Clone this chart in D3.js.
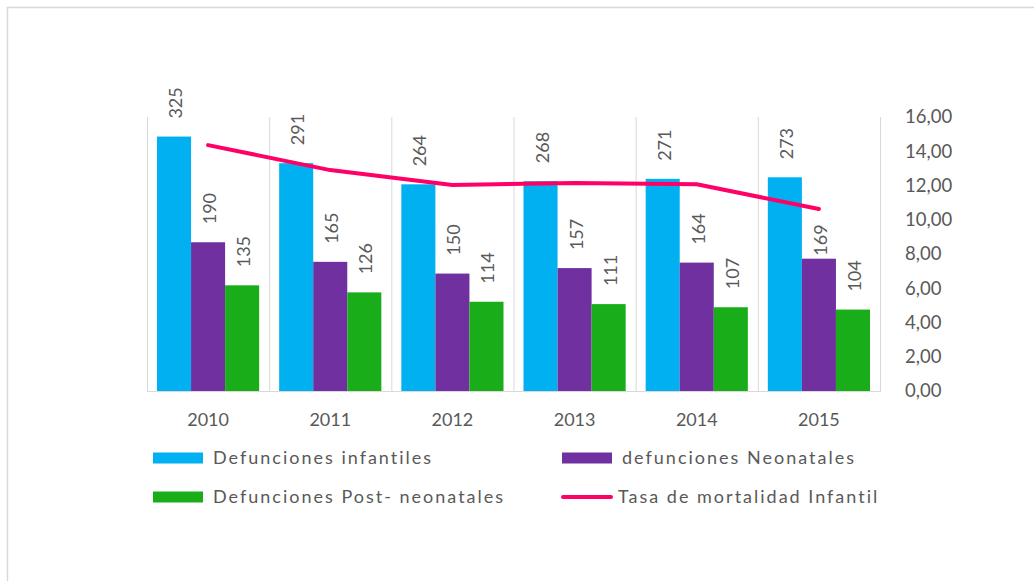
<!DOCTYPE html>
<html>
<head>
<meta charset="utf-8">
<script src="https://cdn.jsdelivr.net/npm/d3@7"></script>
<style>
  html, body { margin: 0; padding: 0; background: #fff; }
  svg { display: block; }
  text { font-family: Lato, "Open Sans", sans-serif; fill: #595959; }
</style>
</head>
<body>
<svg id="chart" width="1034" height="581"></svg>
<script>
// Yearly data
const years = ["2010", "2011", "2012", "2013", "2014", "2015"];
const infantiles = [325, 291, 264, 268, 271, 273];
const neonatales = [190, 165, 150, 157, 164, 169];
const postNeonatales = [135, 126, 114, 111, 107, 104];
const tasaMortalidad = [14.36, 12.9, 12.03, 12.15, 12.07, 10.63];
const rightTicks = [0, 2, 4, 6, 8, 10, 12, 14, 16];

const seriesNames = ["Defunciones infantiles", "defunciones Neonatales", "Defunciones Post- neonatales"];
const lineName = "Tasa de mortalidad Infantil";
const barColors = ["#00B0F0", "#7030A0", "#19AD19"];
const lineColor = "#FF0066";

const barSeries = [infantiles, neonatales, postNeonatales];

const svg = d3.select("#chart");

// outer frame
svg.append("rect")
  .attr("x", 7.5).attr("y", 7.5)
  .attr("width", 1040).attr("height", 600)
  .attr("fill", "none").attr("stroke", "#d9d9d9").attr("stroke-width", 1.5);

const plot = { left: 147, right: 880, top: 117, bottom: 391 };

const x = d3.scaleBand().domain(years).range([plot.left, plot.right]).padding(0);
const groupPad = 10;
const xInner = d3.scaleBand()
  .domain(d3.range(barSeries.length))
  .range([groupPad, x.bandwidth() - groupPad])
  .padding(0);

const yLeft = d3.scaleLinear().domain([0, 350]).range([plot.bottom, plot.top]);
const yRight = d3.scaleLinear().domain([0, 16]).range([plot.bottom, plot.top]);

// vertical category separators
const bounds = years.map(y => x(y)).concat([plot.right]);
svg.append("g").selectAll("line")
  .data(bounds)
  .join("line")
  .attr("x1", d => d + 0.5).attr("x2", d => d + 0.5)
  .attr("y1", plot.top).attr("y2", plot.bottom)
  .attr("stroke", "#d9d9d9").attr("stroke-width", 1);

// bars
const groups = svg.append("g").selectAll("g")
  .data(years)
  .join("g")
  .attr("transform", d => `translate(${x(d)},0)`);

groups.selectAll("rect")
  .data((d, i) => barSeries.map((s, k) => ({ k, i, v: s[i] })))
  .join("rect")
  .attr("x", d => xInner(d.k))
  .attr("width", xInner.bandwidth())
  .attr("y", d => yLeft(d.v))
  .attr("height", d => plot.bottom - yLeft(d.v))
  .attr("fill", d => barColors[d.k]);

// baseline
svg.append("line")
  .attr("x1", plot.left).attr("x2", plot.right + 1)
  .attr("y1", plot.bottom + 0.5).attr("y2", plot.bottom + 0.5)
  .attr("stroke", "#d9d9d9").attr("stroke-width", 1);

// rate line
const lineX = i => x(years[i]) + x.bandwidth() / 2;
const line = d3.line()
  .x((d, i) => lineX(i))
  .y(d => yRight(d));

svg.append("path")
  .datum(tasaMortalidad)
  .attr("d", line)
  .attr("fill", "none")
  .attr("stroke", lineColor)
  .attr("stroke-width", 4)
  .attr("stroke-linecap", "round")
  .attr("stroke-linejoin", "round");

// y of the rate line at a given pixel x (null outside the line)
function lineYAt(px) {
  for (let i = 0; i < tasaMortalidad.length - 1; i++) {
    const x0 = lineX(i), x1 = lineX(i + 1);
    if (px >= x0 && px <= x1) {
      const t = (px - x0) / (x1 - x0);
      return yRight(tasaMortalidad[i] + t * (tasaMortalidad[i + 1] - tasaMortalidad[i]));
    }
  }
  return null;
}

// rotated value labels above bars; a label that would sit on the line is tucked under it
const labelGap = 18, labelLen = 34;
groups.selectAll("text.val")
  .data((d, i) => barSeries.map((s, k) => ({ k, i, v: s[i] })))
  .join("text")
  .attr("class", "val")
  .attr("transform", d => {
    const cx = xInner(d.k) + xInner.bandwidth() / 2;
    const top = yLeft(d.v);
    let base = top - labelGap;
    const ly = lineYAt(x(years[d.i]) + cx);
    if (ly !== null && ly > base - labelLen - 6 && ly < base + 4) base = top - 3;
    return `translate(${cx + 1},${base}) rotate(-90)`;
  })
  .attr("dominant-baseline", "central")
  .attr("text-anchor", "start")
  .attr("font-size", 18)
  .text(d => d.v);

// category axis labels
const xAxis = d3.axisBottom(x).tickSize(0).tickPadding(0);
const gx = svg.append("g")
  .attr("transform", `translate(0,${plot.bottom})`)
  .call(xAxis);
gx.select(".domain").remove();
gx.selectAll("text")
  .attr("y", 29)
  .attr("dy", "0.35em")
  .attr("font-size", 18)
  .attr("font-family", "Lato, sans-serif")
  .attr("fill", "#595959");

// right value axis
const yAxis = d3.axisRight(yRight)
  .tickValues(rightTicks)
  .tickSize(0)
  .tickFormat(d => d3.format(".2f")(d).replace(".", ","));
const gy = svg.append("g")
  .attr("transform", `translate(905,0)`)
  .call(yAxis);
gy.select(".domain").remove();
gy.selectAll("text")
  .attr("x", 0)
  .attr("font-size", 18.5)
  .attr("font-family", "Lato, sans-serif")
  .attr("fill", "#595959");

// legend
const legendItems = [
  { name: seriesNames[0], color: barColors[0], type: "rect", x: 153, y: 458 },
  { name: seriesNames[1], color: barColors[1], type: "rect", x: 562, y: 458 },
  { name: seriesNames[2], color: barColors[2], type: "rect", x: 153, y: 497 },
  { name: lineName, color: lineColor, type: "line", x: 562, y: 497 }
];
const lg = svg.append("g").selectAll("g")
  .data(legendItems)
  .join("g")
  .attr("transform", d => `translate(${d.x},${d.y})`);

lg.filter(d => d.type === "rect").append("rect")
  .attr("x", 0).attr("y", -5.5)
  .attr("width", 50).attr("height", 11)
  .attr("fill", d => d.color);

lg.filter(d => d.type === "line").append("line")
  .attr("x1", 1).attr("x2", 49)
  .attr("y1", 0).attr("y2", 0)
  .attr("stroke", d => d.color)
  .attr("stroke-width", 4)
  .attr("stroke-linecap", "round");

lg.append("text")
  .attr("x", d => d.type === "rect" ? 60 : 56)
  .attr("y", 0)
  .attr("dy", "0.35em")
  .attr("font-size", 18)
  .attr("letter-spacing", "2px")
  .text(d => d.name);
</script>
</body>
</html>
